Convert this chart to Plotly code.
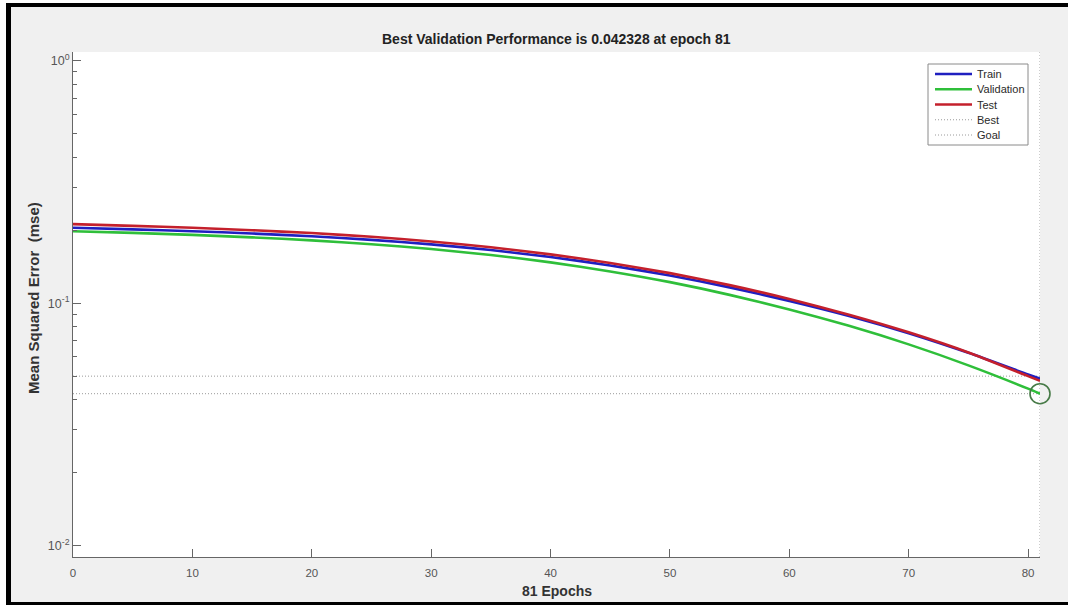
import plotly.graph_objects as go

# ---- data -------------------------------------------------------------
epochs = [0, 5, 10, 15, 20, 25, 30, 35, 40, 45, 50, 55, 60, 65, 70, 75, 80, 81]
train_mse = [0.2048, 0.2015, 0.1981, 0.1938, 0.1888, 0.1824, 0.1748, 0.1656, 0.1550,
             0.1430, 0.1300, 0.1162, 0.1022, 0.0886, 0.0752, 0.0624, 0.0508, 0.0488]
val_mse = [0.1981, 0.1949, 0.1913, 0.1868, 0.1816, 0.1750, 0.1672, 0.1580, 0.1473,
           0.1352, 0.1221, 0.1082, 0.0942, 0.0806, 0.0676, 0.0554, 0.0444, 0.042328]
test_mse = [0.2118, 0.2084, 0.2046, 0.2000, 0.1946, 0.1878, 0.1797, 0.1700, 0.1590,
            0.1465, 0.1330, 0.1187, 0.1040, 0.0896, 0.0758, 0.0626, 0.0500, 0.0478]
best_epoch = 81
best_perf = 0.042328
goal = 0.05
y_tickvals = [0.01, 0.1, 1]
y_ticktext = ["10<sup>-2</sup>", "10<sup>-1</sup>", "10<sup>0</sup>"]
x_tickvals = [0, 10, 20, 30, 40, 50, 60, 70, 80]

# ---- geometry ---------------------------------------------------------
W, H = 1068, 605
L, R, T, B = 73, 1040, 52, 557          # plot area edges in pixels
PW, PH = R - L, B - T


def px(x):
    return (x - L) / PW


def py(y):
    return 1 - (y - T) / PH


FONT = "Liberation Sans, Arial, Helvetica, sans-serif"
BLUE, GREEN, RED = "#1f1fc0", "#2fbf3a", "#c4202c"
DOT = "#9a9a9a"
DOTDASH = "1px,2px"

fig = go.Figure()

# reference lines (goal and best)
fig.add_trace(go.Scatter(x=[0, best_epoch], y=[goal, goal], mode="lines",
                         line=dict(color=DOT, width=1, dash=DOTDASH), hoverinfo="skip"))
fig.add_trace(go.Scatter(x=[0, best_epoch], y=[best_perf, best_perf], mode="lines",
                         line=dict(color=DOT, width=1, dash=DOTDASH), hoverinfo="skip"))
fig.add_trace(go.Scatter(x=[best_epoch, best_epoch], y=[10 ** -2.047, 10 ** 0.036], mode="lines",
                         line=dict(color=DOT, width=1, dash=DOTDASH), hoverinfo="skip",
                         cliponaxis=False))

# performance curves
for ys, col, name in [(train_mse, BLUE, "Train"), (val_mse, GREEN, "Validation"),
                      (test_mse, RED, "Test")]:
    fig.add_trace(go.Scatter(x=epochs, y=ys, mode="lines", name=name,
                             line=dict(color=col, width=2.6, shape="spline", smoothing=0.6)))

# best validation marker
fig.add_trace(go.Scatter(x=[best_epoch], y=[best_perf], mode="markers", cliponaxis=False,
                         marker=dict(symbol="circle-open", size=20, color="#477a47",
                                     line=dict(color="#477a47", width=1.6))))

shapes = []
# outer frame: white margin, black border
shapes.append(dict(type="rect", xref="paper", yref="paper", x0=px(0), x1=px(6), y0=py(H), y1=py(0),
                   fillcolor="white", line=dict(width=0)))
shapes.append(dict(type="rect", xref="paper", yref="paper", x0=px(0), x1=px(W), y0=py(3), y1=py(0),
                   fillcolor="white", line=dict(width=0)))
shapes.append(dict(type="rect", xref="paper", yref="paper", x0=px(6), x1=px(W), y0=py(7), y1=py(3),
                   fillcolor="black", line=dict(width=0)))
shapes.append(dict(type="rect", xref="paper", yref="paper", x0=px(6), x1=px(11), y0=py(H), y1=py(3),
                   fillcolor="black", line=dict(width=0)))
shapes.append(dict(type="rect", xref="paper", yref="paper", x0=px(6), x1=px(W), y0=py(H), y1=py(602),
                   fillcolor="black", line=dict(width=0)))

# legend box
lx0, lx1, ly0, ly1 = 928, 1028, 64, 145
shapes.append(dict(type="rect", xref="paper", yref="paper", x0=px(lx0), x1=px(lx1),
                   y0=py(ly1), y1=py(ly0), fillcolor="white", line=dict(color="#8a8a8a", width=1)))
legend_items = [("Train", BLUE, "solid", 2.6), ("Validation", GREEN, "solid", 2.6),
                ("Test", RED, "solid", 2.6), ("Best", DOT, DOTDASH, 1), ("Goal", DOT, DOTDASH, 1)]
annotations = []
for i, (lab, col, dash, wd) in enumerate(legend_items):
    yy = 74 + i * 15.25
    shapes.append(dict(type="line", xref="paper", yref="paper", x0=px(935), x1=px(972),
                       y0=py(yy), y1=py(yy), line=dict(color=col, width=wd, dash=dash)))
    annotations.append(dict(xref="paper", yref="paper", x=px(975), y=py(yy), text=lab,
                            showarrow=False, xanchor="left", yanchor="middle",
                            font=dict(family=FONT, size=11, color="#2a2a2a")))

# titles
annotations.append(dict(xref="paper", yref="paper", x=0.5, y=py(39),
                        text="<b>Best Validation Performance is 0.042328 at epoch 81</b>",
                        showarrow=False, xanchor="center", yanchor="middle",
                        font=dict(family=FONT, size=14, color="#222")))
annotations.append(dict(xref="paper", yref="paper", x=0.5, y=py(591),
                        text="<b>81 Epochs</b>", showarrow=False, xanchor="center",
                        yanchor="middle", font=dict(family=FONT, size=14, color="#333")))
annotations.append(dict(xref="paper", yref="paper", x=px(33), y=py(298), textangle=-90,
                        text="<b>Mean Squared Error  (mse)</b>", showarrow=False,
                        xanchor="center", yanchor="middle",
                        font=dict(family=FONT, size=15, color="#333")))

fig.update_layout(
    width=W, height=H,
    margin=dict(l=L, r=W - R, t=T, b=H - B, pad=0),
    paper_bgcolor="#f0f0f0", plot_bgcolor="white",
    showlegend=False,
    shapes=shapes, annotations=annotations,
    font=dict(family=FONT, color="#555"),
)
fig.update_xaxes(range=[0, 81], tickvals=x_tickvals, ticks="inside", ticklen=8,
                 tickcolor="#666", showline=True, linecolor="#666", linewidth=1,
                 showgrid=False, zeroline=False, tickfont=dict(size=11.5, color="#555"),
                 ticklabelstandoff=5, mirror=False)
fig.update_yaxes(type="log", range=[-2.047, 0.036], tickvals=y_tickvals, ticktext=y_ticktext,
                 ticks="inside", ticklen=8, tickcolor="#666", showline=True, linecolor="#666",
                 linewidth=1, showgrid=False, zeroline=False,
                 tickfont=dict(size=12.5, color="#555"),
                 minor=dict(ticks="inside", ticklen=4, dtick="D1", tickcolor="#666",
                            showgrid=False))

fig.write_html("out.html")
